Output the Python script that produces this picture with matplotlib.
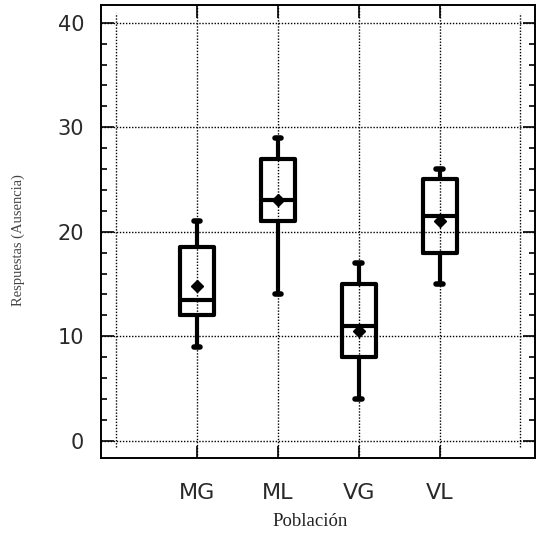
import matplotlib

matplotlib.use("Agg")

import matplotlib.pyplot as plt
from matplotlib.ticker import MultipleLocator

groups = ["MG", "ML", "VG", "VL"]
whisker_low = [9, 14, 4, 15]
q1 = [12, 21, 8, 18]
medians = [13.5, 23, 11, 21.5]
q3 = [18.5, 27, 15, 25]
whisker_high = [21, 29, 17, 26]
means = [14.8, 23, 10.5, 21]

fig = plt.figure(figsize=(5.4, 5.34), dpi=100, facecolor="white")
ax = fig.add_axes([0.1865, 0.1423, 0.8042, 0.8483])

stats = []
for i, name in enumerate(groups):
    stats.append({
        "label": name,
        "whislo": whisker_low[i],
        "q1": q1[i],
        "med": medians[i],
        "q3": q3[i],
        "whishi": whisker_high[i],
        "mean": means[i],
        "fliers": [],
    })

positions = list(range(1, len(groups) + 1))
line = dict(color="black", linewidth=3.0, solid_joinstyle="round",
            solid_capstyle="round")
ax.bxp(
    stats,
    positions=positions,
    widths=0.42,
    capwidths=0.08,
    showmeans=True,
    boxprops=line,
    whiskerprops=line,
    capprops=dict(color="black", linewidth=4.0, solid_capstyle="round"),
    medianprops=line,
    meanprops=dict(marker="D", markerfacecolor="black",
                   markeredgecolor="black", markersize=6),
    zorder=3,
)

ax.set_xlim(-0.19, 5.18)
ax.set_ylim(-1.66, 41.7)

# dotted grid
dots = (0, (1, 1.2))
for y in range(0, 41, 10):
    ax.axhline(y, color="black", linestyle=dots, linewidth=1.0, zorder=1)
for x in positions:
    ax.axvline(x, color="black", linestyle=dots, linewidth=1.0, zorder=1)
for x in (0, 5):
    ax.vlines(x, -0.6, 40.9, color="black", linestyle=dots,
              linewidth=1.0, zorder=1)

ax.set_xticks(positions)
ax.set_xticklabels(groups)
ax.yaxis.set_major_locator(MultipleLocator(10))
ax.yaxis.set_minor_locator(MultipleLocator(2))
ax.tick_params(axis="both", which="major", direction="in", length=9,
               width=1.2, top=True, right=True, color="black")
ax.tick_params(axis="y", which="minor", direction="in", length=4,
               width=1.2, right=True)
ax.tick_params(axis="y", which="major", pad=12, labelsize=15,
               labelcolor="#2a2a2a")
ax.tick_params(axis="x", which="major", pad=18, labelsize=16,
               labelcolor="#2a2a2a")

for spine in ax.spines.values():
    spine.set_linewidth(1.4)
    spine.set_color("black")

fig.text(18 / 540, 1 - 240 / 534, "Respuestas (Ausencia)", rotation=90,
         ha="center", va="center", fontsize=10.5, color="#444444",
         family="Liberation Serif")
fig.text(310 / 540, 1 - 521 / 534, "Población", ha="center", va="center",
         fontsize=13.5, color="#222222", family="Liberation Serif")

fig.savefig("out.png", dpi=100)
plt.close(fig)
